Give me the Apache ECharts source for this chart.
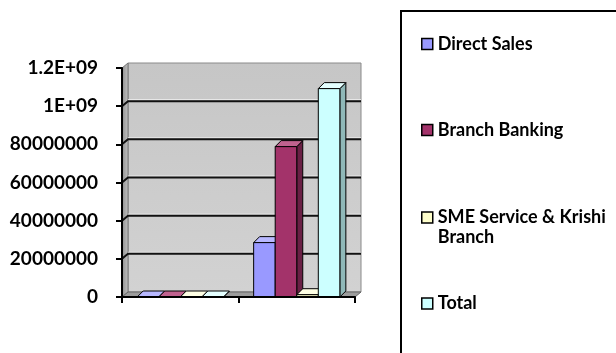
<!DOCTYPE html>
<html>
<head>
<meta charset="utf-8">
<script src="https://cdn.jsdelivr.net/npm/echarts@6/dist/echarts.min.js"></script>
<style>html,body{margin:0;padding:0;background:#fff}#c{width:616px;height:353px}</style>
</head>
<body>
<div id="c"></div>
<script>
var categories = ['Category 1', 'Category 2'];
var seriesNames = ['Direct Sales', 'Branch Banking', 'SME Service & Krishi Branch', 'Total'];
var directSales = [0, 285000000];
var branchBanking = [0, 788000000];
var smeKrishi = [0, 12000000];
var total = [0, 1092000000];
var yTickValues = [0, 200000000, 400000000, 600000000, 800000000, 1000000000, 1200000000];
var yTickLabels = ['0', '20000000', '40000000', '60000000', '80000000', '1E+09', '1.2E+09'];

var seriesValues = [directSales, branchBanking, smeKrishi, total];
var faceColors = [
  {front: '#9999ff', side: '#6868b8', top: '#b8b8ff'},
  {front: '#a3336a', side: '#6a2045', top: '#c0628f'},
  {front: '#ffffcc', side: '#b8b890', top: '#ffffe4'},
  {front: '#ccffff', side: '#8fb8b8', top: '#e4ffff'}
];
var DX = 6, DY = 6, WDX = 6, WDY = 5;
var GROUP_RATIO = 0.74;
var FONT = 'Lato';

var chart = echarts.init(document.getElementById('c'), null, {renderer: 'canvas'});

function wallRender(params, api) {
  var cs = params.coordSys;
  var v = api.value(1);
  var x = cs.x, w = cs.width, top = cs.y, h = cs.height;
  var children = [];
  if (params.dataIndex === 0) {
    children.push({
      type: 'polygon',
      shape: {points: [[x + WDX, top - WDY], [x + w + WDX, top - WDY], [x + w + WDX, top + h - WDY], [x + WDX, top + h - WDY]]},
      style: {fill: new echarts.graphic.LinearGradient(0, 0, 0, 1, [{offset: 0, color: '#c6c6c6'}, {offset: 1, color: '#d2d2d2'}]), stroke: '#8a8a8a', lineWidth: 1}
    });
    children.push({
      type: 'polygon',
      shape: {points: [[x, top], [x + WDX, top - WDY], [x + WDX, top + h - WDY], [x, top + h]]},
      style: {fill: new echarts.graphic.LinearGradient(0, 0, 1, 0, [{offset: 0, color: '#8c8c8c'}, {offset: 1, color: '#c4c4c4'}]), stroke: '#777', lineWidth: 1}
    });
    children.push({
      type: 'polygon',
      shape: {points: [[x, top + h], [x + WDX, top + h - WDY], [x + w + WDX, top + h - WDY], [x + w, top + h]]},
      style: {fill: '#9c9c9c', stroke: '#666', lineWidth: 1}
    });
  } else if (v < yTickValues[yTickValues.length - 1]) {
    var yy = api.coord([0, v])[1];
    children.push({
      type: 'polyline',
      shape: {points: [[x + WDX, yy - WDY - 1.5], [x + w + WDX, yy - WDY - 1.5]]},
      style: {stroke: '#ececec', lineWidth: 1, fill: null}
    });
    children.push({
      type: 'polyline',
      shape: {points: [[x, yy], [x + WDX, yy - WDY], [x + w + WDX, yy - WDY]]},
      style: {stroke: '#111', lineWidth: 2, fill: null}
    });
  }
  return {type: 'group', children: children};
}

function makeBarRender(si) {
  return function (params, api) {
    var ci = api.value(0);
    var val = api.value(1);
    var topPt = api.coord([ci, val]);
    var basePt = api.coord([ci, 0]);
    var band = api.size([1, 0])[0];
    var groupW = band * GROUP_RATIO;
    var bw = groupW / seriesValues.length;
    var x0 = topPt[0] - groupW / 2 + si * bw;
    var x1 = x0 + bw;
    var t = topPt[1], b = basePt[1];
    var c = faceColors[si];
    var st = {stroke: '#000', lineWidth: 1, lineJoin: 'round'};
    return {
      type: 'group',
      children: [
        {type: 'polygon', shape: {points: [[x1, t], [x1 + DX, t - DY], [x1 + DX, b - DY], [x1, b]]}, style: Object.assign({fill: c.side}, st)},
        {type: 'polygon', shape: {points: [[x0, t], [x0 + DX, t - DY], [x1 + DX, t - DY], [x1, t]]}, style: Object.assign({fill: c.top}, st)},
        {type: 'rect', shape: {x: x0, y: t, width: bw, height: Math.max(b - t, 0)}, style: Object.assign({fill: c.front}, st)}
      ]
    };
  };
}

var series = [{
  type: 'custom',
  name: '_wall',
  silent: true,
  z: 1,
  renderItem: wallRender,
  data: yTickValues.map(function (v) { return [0, v]; })
}];
seriesValues.forEach(function (arr, si) {
  series.push({
    type: 'custom',
    name: seriesNames[si],
    z: 2 + si,
    itemStyle: {color: faceColors[si].front},
    renderItem: makeBarRender(si),
    data: arr.map(function (v, i) { return [i, v]; })
  });
});

var legendCenters = [43, 129, 217.5, 302.5];
var legends = seriesNames.map(function (n, i) {
  var lines = (i === 2) ? 3 : 1;
  var lh = (i === 2) ? 20 : 16;
  return {
    data: [n],
    orient: 'vertical',
    left: 421,
    top: legendCenters[i] - lines * lh / 2,
    icon: 'rect',
    itemWidth: 11,
    itemHeight: 11,
    selectedMode: false,
    itemStyle: {borderColor: '#000', borderWidth: 1.5},
    padding: 0,
    formatter: function (name) {
      return name === 'SME Service & Krishi Branch' ? ' \nSME Service & Krishi\nBranch' : name;
    },
    textStyle: {fontFamily: FONT, fontWeight: 'bold', fontSize: 18, color: '#000', lineHeight: lh}
  };
});

chart.setOption({
  animation: false,
  backgroundColor: '#fff',
  graphic: [{
    type: 'rect',
    z: -10,
    shape: {x: 401, y: 11, width: 300, height: 400},
    style: {fill: '#fff', stroke: '#000', lineWidth: 2}
  }],
  legend: legends,
  grid: {left: 122, right: 261, top: 68, bottom: 56, containLabel: false},
  xAxis: {
    type: 'category',
    data: categories,
    boundaryGap: true,
    z: 10,
    axisLine: {show: true, lineStyle: {color: '#000', width: 2}},
    axisTick: {show: true, length: 6, inside: false, alignWithLabel: false, lineStyle: {color: '#000', width: 2}},
    axisLabel: {show: false},
    splitLine: {show: false}
  },
  yAxis: {
    type: 'value',
    min: 0,
    max: 1200000000,
    interval: 200000000,
    z: 10,
    axisLine: {show: true, lineStyle: {color: '#000', width: 2}},
    axisTick: {show: true, length: 6, lineStyle: {color: '#000', width: 2}},
    axisLabel: {
      margin: 24,
      fontFamily: FONT,
      fontWeight: 'bold',
      fontSize: 19,
      color: '#000',
      formatter: function (v) {
        var idx = yTickValues.indexOf(v);
        return idx >= 0 ? yTickLabels[idx] : '';
      }
    },
    splitLine: {show: false}
  },
  series: series
});
</script>
</body>
</html>
